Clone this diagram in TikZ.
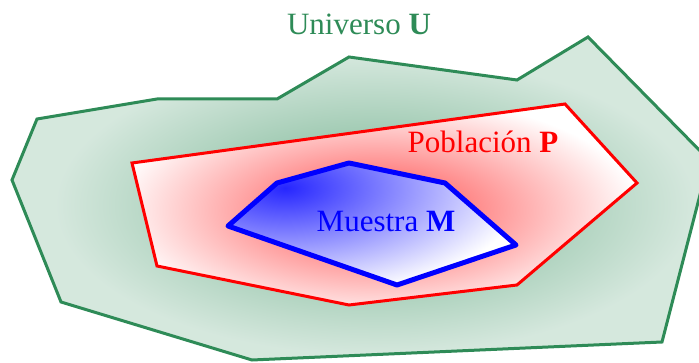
\documentclass[tikz,border=0pt]{standalone}
\usepackage{fontspec}
\setmainfont{Liberation Serif}
\usepackage{xcolor}
\usepackage{tikz}
\usetikzlibrary{calc}

\definecolor{univgreen}{RGB}{46,139,87}

\begin{document}
\begin{tikzpicture}[x=1pt,y=-1pt,font=\fontsize{31}{37}\selectfont,
  univ/.style={draw=univgreen,line width=3pt},
  pob/.style={draw=red,line width=3pt},
  mues/.style={draw=blue,line width=5pt,line join=round},
  lbl/.style={anchor=base,inner sep=0pt}]
\useasboundingbox (0,0) rectangle (699,363);
% universo
\begin{scope}
  \clip (12,180) -- (37,119) -- (157,99) -- (277,99) -- (349,57) -- (517,80)
    -- (588,37) -- (709,160) -- (662,342) -- (252,360) -- (61,302) -- cycle;
  \fill[univgreen!20] (0,0) rectangle (720,363);
  \shade[inner color=univgreen!68,outer color=univgreen!20] (375,205) ellipse (320 and 150);
\end{scope}
\draw[univ] (12,180) -- (37,119) -- (157,99) -- (277,99) -- (349,57) -- (517,80)
  -- (588,37) -- (709,160) -- (662,342) -- (252,360) -- (61,302) -- cycle;
% poblacion
\begin{scope}
  \clip (132,163) -- (565,104) -- (637,183) -- (517,285) -- (349,305) -- (157,266) -- cycle;
  \fill[white] (100,90) rectangle (650,320);
  \shade[inner color=red!72,outer color=white] (375,210) ellipse (265 and 115);
\end{scope}
\draw[pob] (132,163) -- (565,104) -- (637,183) -- (517,285) -- (349,305) -- (157,266) -- cycle;
% muestra
\begin{scope}
  \clip (228,226) -- (277,183) -- (349,163) -- (445,183) -- (516,245) -- (397,285) -- cycle;
  \fill[white] (200,150) rectangle (530,300);
  \shade[inner color=blue!85,outer color=white] (285,188) ellipse (240 and 110);
\end{scope}
\draw[mues] (228,226) -- (277,183) -- (349,163) -- (445,183) -- (516,245) -- (397,285) -- cycle;
% textos
\node[lbl,text=univgreen] (U) at (359,35) {Universo \textbf{U}};
\node[lbl,text=red] (P) at (483,153) {Población \textbf{P}};
\node[lbl,text=blue] (M) at (386,232) {Muestra \textbf{M}};
\end{tikzpicture}
\end{document}
